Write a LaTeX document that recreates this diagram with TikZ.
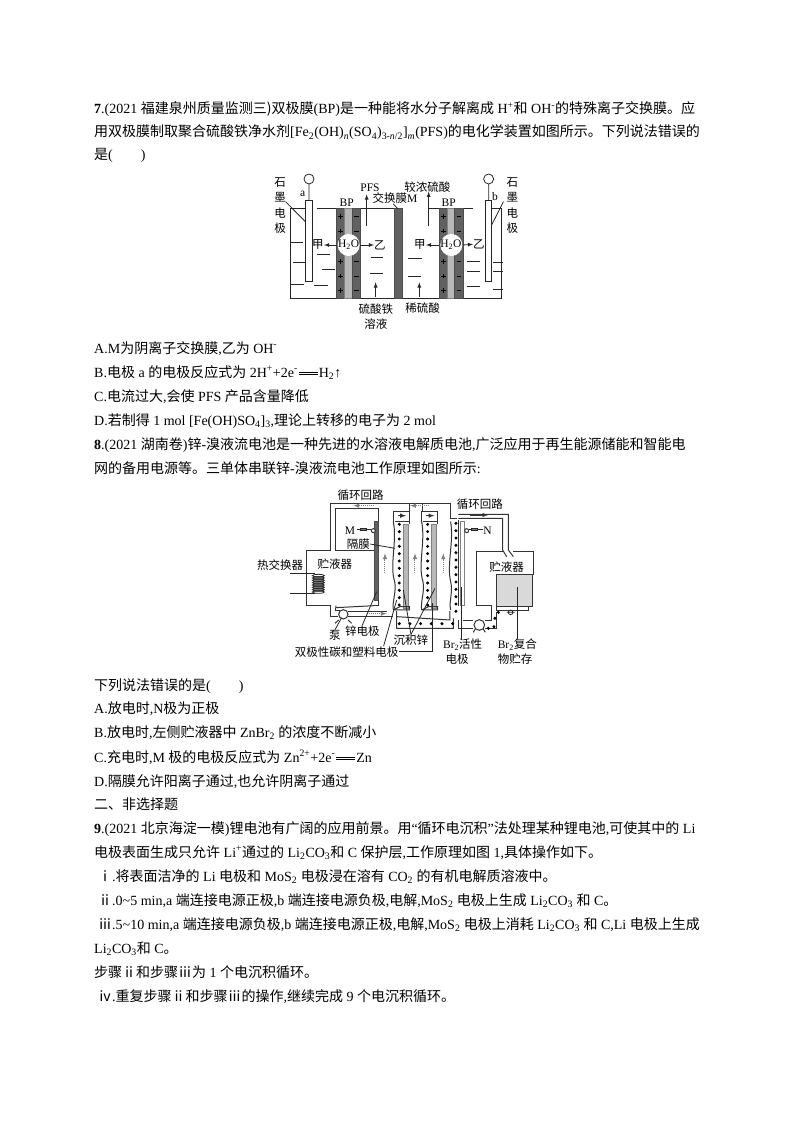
\documentclass[tikz,border=0pt]{standalone}
\usepackage{fontspec}
\setmainfont{Noto Sans CJK SC}
\newfontfamily\latin{Liberation Serif}
\usetikzlibrary{calc,arrows,positioning}
\newcommand{\la}[1]{{\latin #1}}
\newcommand{\lab}[1]{{\latin\bfseries #1}}
\newcommand{\dn}[1]{\textsubscript{\latin #1}}
\newcommand{\up}[1]{\textsuperscript{\latin #1}}
\newcommand{\eqq}{\kern1pt\raisebox{2pt}{\rule{19pt}{0.7pt}}\kern-19pt\raisebox{4.5pt}{\rule{19pt}{0.7pt}}\kern1pt}
\tikzset{
  txt/.style={anchor=base west,inner sep=0pt,font=\fontsize{14}{14}\selectfont},
  lbl/.style={inner sep=0pt,font=\fontsize{11.5}{12}\selectfont},
  solid line/.style={draw=black!85,line width=0.8pt},
  pipe/.style={draw=black!80,line width=1pt},
  flow/.style={draw=black!50,densely dotted,line width=1pt,-latex},
  dark plate/.style={fill=black!62,draw=black!70,line width=0.4pt},
  light plate/.style={fill=black!28,draw=black!50,line width=0.4pt}
}
\begin{document}
\begin{tikzpicture}[x=1pt,y=-1pt]
\useasboundingbox (0,0) rectangle (794,1123);
% question 7
\node[txt] (q7a) at (94,114) {\lab{7}\la{.(2021 }福建泉州质量监测三)双极膜\la{(BP)}是一种能将水分子解离成\la{ H\up{+}}和\la{ OH\up{-}}的特殊离子交换膜。应};
\node[txt] (q7b) at (94,137) {用双极膜制取聚合硫酸铁净水剂\la{[Fe\dn{2}(OH)\dn{\textit{n}}(SO\dn{4})\dn{3-\textit{n}/2}]\dn{\textit{m}}(PFS)}的电化学装置如图所示。下列说法错误的};
\node[txt] (q7c) at (94,160) {是\la{(\qquad)}};
\node[txt] (q7A) at (94,353) {\la{A.M}为阴离子交换膜\la{,}乙为\la{ OH\up{-}}};
\node[txt] (q7B) at (94,377) {\la{B.}电极\la{ a }的电极反应式为\la{ 2H\up{+}+2e\up{-}\eqq H\dn{2}↑}};
\node[txt] (q7C) at (94,401) {\la{C.}电流过大\la{,}会使\la{ PFS }产品含量降低};
\node[txt] (q7D) at (94,425) {\la{D.}若制得\la{ 1 mol [Fe(OH)SO\dn{4}]\dn{3},}理论上转移的电子为\la{ 2 mol}};
% question 8
\node[txt] (q8a) at (94,449) {\lab{8}\la{.(2021 }湖南卷\la{)}锌\la{-}溴液流电池是一种先进的水溶液电解质电池\la{,}广泛应用于再生能源储能和智能电};
\node[txt] (q8b) at (94,473) {网的备用电源等。三单体串联锌\la{-}溴液流电池工作原理如图所示\la{:}};
\node[txt] (q8c) at (94,690) {下列说法错误的是\la{(\qquad)}};
\node[txt] (q8A) at (94,713) {\la{A.}放电时\la{,N}极为正极};
\node[txt] (q8B) at (94,737) {\la{B.}放电时\la{,}左侧贮液器中\la{ ZnBr\dn{2} }的浓度不断减小};
\node[txt] (q8C) at (94,762) {\la{C.}充电时\la{,M }极的电极反应式为\la{ Zn\up{2+}+2e\up{-}\eqq Zn}};
\node[txt] (q8D) at (94,786) {\la{D.}隔膜允许阳离子通过\la{,}也允许阴离子通过};
\node[txt] (sec2) at (94,809) {二、非选择题};
% question 9
\node[txt] (q9a) at (94,833) {\lab{9}\la{.(2021 }北京海淀一模\la{)}锂电池有广阔的应用前景。用\la{“}循环电沉积\la{”}法处理某种锂电池\la{,}可使其中的\la{ Li}};
\node[txt] (q9b) at (94,857) {电极表面生成只允许\la{ Li\up{+}}通过的\la{ Li\dn{2}CO\dn{3}}和\la{ C }保护层\la{,}工作原理如图\la{ 1,}具体操作如下。};
\node[txt] (q9c) at (98,881) {ⅰ\la{.}将表面洁净的\la{ Li }电极和\la{ MoS\dn{2} }电极浸在溶有\la{ CO\dn{2} }的有机电解质溶液中。};
\node[txt] (q9d) at (98,905) {ⅱ\la{.0\textasciitilde 5 min,a }端连接电源正极\la{,b }端连接电源负极\la{,}电解\la{,MoS\dn{2} }电极上生成\la{ Li\dn{2}CO\dn{3} }和\la{ C}。};
\node[txt] (q9e) at (98,929) {ⅲ\la{.5\textasciitilde 10 min,a }端连接电源负极\la{,b }端连接电源正极\la{,}电解\la{,MoS\dn{2} }电极上消耗\la{ Li\dn{2}CO\dn{3} }和\la{ C,Li }电极上生成};
\node[txt] (q9f) at (94,953) {\la{Li\dn{2}CO\dn{3}}和\la{ C}。};
\node[txt] (q9g) at (94,977) {步骤ⅱ和步骤ⅲ为\la{ 1 }个电沉积循环。};
\node[txt] (q9h) at (98,1001) {ⅳ\la{.}重复步骤ⅱ和步骤ⅲ的操作\la{,}继续完成\la{ 9 }个电沉积循环。};
% figure of question 7
\begin{scope}[shift={(260,165)},x=0.3333pt,y=-0.3333pt]
  \draw[solid line] (92,130) -- (92,400) -- (725,400) -- (725,130);
  \draw[solid line] (92,130) -- (135,130) (172,130) -- (402,130);
  \draw[solid line] (505,130) -- (640,130) (695,130) -- (725,130);
  % bipolar membranes
  \foreach \xa in {229,537} {
    \draw[dark plate] (\xa,130) rectangle ++(25,270);
    \draw[light plate] (\xa+25,130) rectangle ++(22,270);
    \draw[dark plate] (\xa+47,130) rectangle ++(25,270);
    \foreach \ya in {155,198,290,333,377} {
      \draw[black,line width=0.8pt] (\xa+6,\ya) -- ++(14,0) (\xa+13,\ya-7) -- ++(0,14);
      \draw[black,line width=0.8pt] (\xa+53,\ya) -- ++(14,0);
    }
    \fill[white] (\xa+37,240) circle (33);
  }
  \draw[dark plate] (402,130) rectangle (427,400);
  % electrodes
  \draw[solid line,fill=white] (135,105) rectangle (157,348);
  \draw[solid line,fill=white] (677,105) rectangle (695,348);
  \draw[solid line] (147,42) circle (15) (147,57) -- (147,105);
  \draw[solid line] (686,42) circle (15) (686,57) -- (686,105);
  % liquid level marks
  \foreach \xa/\ya/\xb in {92/233/130,100/292/135,92/358/132,172/267/210,187/312/226,163/362/203,332/278/370,330/326/368,445/280/485,443/333/483,622/288/660,620/320/660,620/363/660,700/292/730,700/320/730,700/373/730}
    \draw[solid line] (\xa,\ya) -- (\xb,\ya);
  % flows
  \draw[solid line,-latex] (320,182) -- (320,88);
  \draw[solid line,-latex] (506,182) -- (506,80);
  \draw[solid line,-latex] (347,395) -- (347,352);
  \draw[solid line,-latex] (478,395) -- (478,352);
  \node[lbl] (waterL) at (266,240) {\la{H\dn{2}O}};
  \node[lbl] (waterR) at (573,240) {\la{H\dn{2}O}};
  \node[lbl] (jiaL) at (174,240) {甲};
  \node[lbl] (yiL) at (360,240) {乙};
  \node[lbl] (jiaR) at (480,240) {甲};
  \node[lbl] (yiR) at (657,238) {乙};
  \draw[solid line,-latex] (waterL.west) ++(-3,0) -- (jiaL.east);
  \draw[solid line,-latex] (waterL.east) ++(3,0) -- (yiL.west);
  \draw[solid line,-latex] (waterR.west) ++(-3,0) -- (jiaR.east);
  \draw[solid line,-latex] (waterR.east) ++(3,0) -- (yiR.west);
  % labels
  \node[lbl,align=center,text width=12pt] (graphL) at (60,122) {石\\[3.5pt]墨\\[3.5pt]电\\[3.5pt]极};
  \node[lbl,align=center,text width=12pt] (graphR) at (757,122) {石\\[3.5pt]墨\\[3.5pt]电\\[3.5pt]极};
  \node[lbl] (termA) at (128,88) {\la{a}};
  \node[lbl] (termB) at (705,95) {\la{b}};
  \node[lbl] (bpL) at (260,112) {\la{BP}};
  \node[lbl] (bpR) at (566,112) {\la{BP}};
  \node[lbl] (pfs) at (330,68) {\la{PFS}};
  \node[lbl] (memM) at (405,100) {交换膜\la{M}};
  \node[lbl] (acidC) at (502,65) {较浓硫酸};
  \node[lbl,align=center] (ironS) at (348,455) {硫酸铁\\[3pt]溶液};
  \node[lbl] (acidD) at (488,430) {稀硫酸};
  \draw[solid line] ($(graphL.east)+(-2,-12)$) -- (136,170);
  \draw[solid line] ($(graphR.west)+(-8,-12)$) -- (695,180);
  \draw[solid line] (memM.south) ++(-5,0) -- (414,132);
\end{scope}
% figure of question 8
\begin{scope}[shift={(240,485)},x=0.3333pt,y=-0.3333pt]
  % left tank and pipes
  \draw[pipe] (415,125) -- (415,70) -- (288,70) -- (288,197) -- (403,197);
  \draw[pipe] (403,362) -- (288,368) -- (288,362);
  \draw[pipe] (272,362) -- (200,362) -- (200,197) -- (272,197) -- (272,55) -- (632,55) -- (632,100) -- (650,100);
  \draw[pipe] (272,362) -- (272,395) -- (295,395);
  \draw[pipe] (288,368) -- (288,378) -- (300,378);
  \draw[pipe] (325,380) -- (440,380) (325,395) -- (460,395);
  \draw[pipe,fill=white] (310,388) circle (14);
  \draw[pipe] (296,405) -- (285,415) (324,405) -- (335,415);
  % electrode M
  \draw[dark plate] (403,110) rectangle (416,345);
  \draw[pipe] (416,345) -- (416,362) -- (403,362);
  \draw[pipe,fill=white] (400,137) circle (6);
  \draw[solid line] (352,133) -- (394,133);
  \draw[solid line,fill=black!50] (362,130) rectangle (380,136);
  % coil
  \draw[line width=1.4pt,black!85] (150,265) -- (225,265) (150,325) -- (225,325);
  \fill[black!50] (218,272) rectangle (252,322);
  \foreach \ya in {272,279,...,322}
    \draw[black!85,line width=0.8pt] (235,\ya) ellipse (18 and 4);
  % cells
  \foreach \xa in {460,545} {
    \draw[light plate] (\xa+30,118) rectangle ++(15,252);
    \draw[pipe] (\xa,110) -- (\xa,80) -- (\xa+48,80) -- (\xa+48,118);
    \draw[pipe] (\xa+5,110) -- (\xa+48,110);
    \draw[pipe,-latex] (\xa+14,92) -- (\xa+38,92);
    \draw[pipe] (\xa,375) -- (\xa+48,375) -- (\xa+48,365) -- (\xa+20,365) -- (\xa,375);
    \draw[pipe] (\xa,110) .. controls (\xa+12,170) and (\xa-12,240) .. (\xa+4,290) .. controls (\xa+10,320) and (\xa-4,350) .. (\xa,375);
    \foreach \ya in {118,140,...,360}
      \fill[black] (\xa+18,\ya) circle (5);
  }
  \draw[pipe] (632,110) .. controls (642,170) and (620,240) .. (632,290) .. controls (640,320) and (626,350) .. (632,375);
  \foreach \ya in {115,137,...,400}
    \fill[black] (648,\ya) circle (5);
  % connecting pipes
  \draw[pipe] (510,55) -- (510,80) (548,55) -- (548,80);
  \draw[pipe] (470,378) -- (470,430) -- (640,430) -- (640,400) (470,395) -- (630,405) -- (630,378);
  \foreach \xa in {478,510,...,640}
    \fill[black] (\xa,416) circle (5);
  \draw[pipe] (655,105) -- (655,362);
  \draw[pipe] (655,405) -- (655,432) -- (700,432);
  \draw[pipe] (670,408) -- (700,408);
  % electrode N
  \draw[light plate,fill=white] (660,110) rectangle (672,360);
  \draw[pipe,fill=white] (680,137) circle (6);
  \draw[solid line] (686,133) -- (730,133);
  \draw[solid line,fill=black!50] (695,130) rectangle (713,136);
  % right tank
  \draw[pipe] (655,88) -- (805,88) -- (805,195) -- (820,215);
  \draw[pipe] (655,100) -- (788,100) -- (788,195) -- (800,215);
  \draw[pipe,-latex] (690,90) -- (745,90);
  \draw[pipe] (790,200) -- (710,200) -- (710,362) -- (755,362) -- (755,408) -- (735,408);
  \draw[pipe] (735,432) -- (770,432) -- (770,380);
  \draw[pipe] (820,200) -- (880,200) -- (880,270);
  \draw[pipe,fill=black!15] (770,270) rectangle (878,365);
  \draw[pipe] (770,365) rectangle (865,378);
  \draw[solid line] (812,382) circle (7) (800,382) -- (824,382);
  \foreach \xa/\ya in {765/400,775/382,762/425,745/430}
    \fill[black] (\xa,\ya) circle (5);
  \draw[pipe,fill=white] (718,420) circle (16);
  \draw[pipe] (706,432) -- (700,442) (730,432) -- (736,442);
  % flows
  \foreach \xa in {435,525,610}
    \draw[flow] (\xa,265) -- (\xa,205);
  \draw[flow] (402,62) -- (340,62);
  \draw[flow] (568,62) -- (510,62);
  \draw[flow] (380,386) -- (440,386);
  % labels
  \node[lbl] (loopL) at (362,30) {循环回路};
  \node[lbl] (loopR) at (720,58) {循环回路};
  \node[lbl] (termM) at (330,137) {\la{M}};
  \node[lbl] (termN) at (743,137) {\la{N}};
  \node[lbl] (mem) at (355,177) {隔膜};
  \node[lbl] (heat) at (120,240) {热交换器};
  \node[lbl] (tankL) at (285,237) {贮液器};
  \node[lbl] (tankR) at (800,247) {贮液器};
  \node[lbl] (pump) at (285,450) {泵};
  \node[lbl] (znE) at (367,437) {锌电极};
  \node[lbl] (znD) at (513,465) {沉积锌};
  \node[lbl] (bipolar) at (320,500) {双极性碳和塑料电极};
  \node[lbl,align=left] (brE) at (668,500) {\la{Br\dn{2}}活性\\[3pt]\ 电极};
  \node[lbl,align=left] (brS) at (832,500) {\la{Br\dn{2}}复合\\[3pt]物贮存};
  % leaders
  \draw[solid line] (mem.east) -- (465,190);
  \draw[solid line] (pump.north) -- (305,398);
  \draw[solid line] (znE.north) -- (410,320);
  \draw[solid line] (znD.north) -- (490,315);
  \draw[solid line] (znD.north) -- (585,310);
  \draw[solid line] (bipolar.north east) ++(-45,0) -- (470,345);
  \draw[solid line] (bipolar.east) -- (578,500) -- (578,355);
  \draw[solid line] (brE.north) ++(-3,0) -- (665,305);
  \draw[solid line] (brS.north) -- (832,305);
\end{scope}
\end{tikzpicture}
\end{document}
